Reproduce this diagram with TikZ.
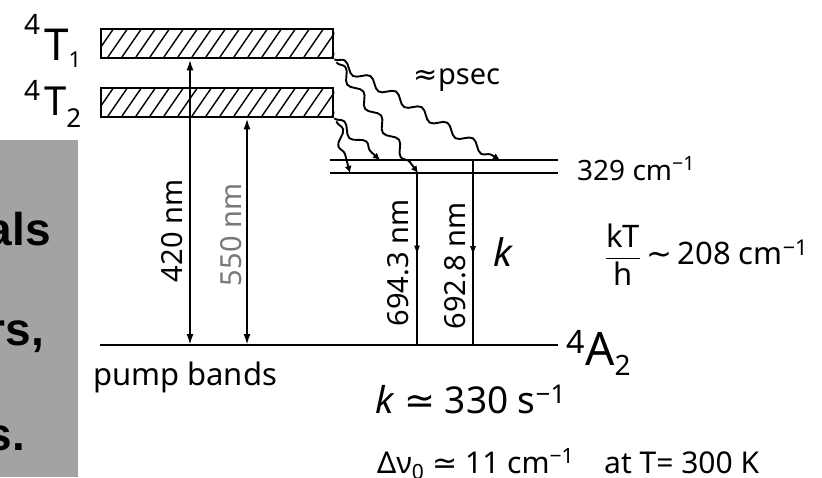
\documentclass[tikz,border=0pt]{standalone}
\usepackage{fontspec}
\usepackage{amsmath}
\setmainfont{Noto Sans}
\newfontfamily\slidefont{Liberation Sans}
\newfontfamily\symfont{DejaVu Sans}
\usetikzlibrary{arrows.meta,decorations.pathmorphing,decorations.markings}
\definecolor{boxgrey}{RGB}{163,163,163}
\definecolor{labelgrey}{RGB}{120,120,120}
\begin{document}
\begin{tikzpicture}[x=1pt,y=-1pt,
  lvl/.style={line width=2.2pt},
  band/.style={draw, line width=2.4pt, minimum width=232pt, minimum height=29pt, inner sep=0, anchor=north west},
  hatch/.style={line width=1.4pt},
  pump/.style={line width=1.9pt, {Latex[length=11pt,width=7pt]}-{Latex[length=11pt,width=7pt]}},
  emit/.style={line width=1.9pt, decoration={markings, mark=at position #1 with {\arrow{Latex[length=10pt,width=6pt]}}}, postaction={decorate}},
  wavy/.style={line width=1.9pt, -{Latex[length=7pt,width=7pt]}, decorate, decoration={snake, amplitude=4.5pt, segment length=30pt, post length=8pt}},
  hand/.style={font=\fontsize{29}{30}\selectfont, inner sep=0},
  slide/.style={font=\slidefont\bfseries\fontsize{46}{50}\selectfont, anchor=base east, inner sep=0},
]
\useasboundingbox (0,0) rectangle (822,477);
\fill[white] (0,0) rectangle (822,477);

% slide panel on the left
\node[fill=boxgrey, minimum width=78pt, minimum height=337pt, inner sep=0, anchor=north west] (panel) at (0,140) {};
\node[slide] (als) at (51,245) {als};
\node[slide] (rs) at (44,345) {rs,};
\node[slide] (sdot) at (25,450) {s.};

% pump bands
\node[band] (b1) at (100,28) {};
\node[band] (b2) at (100,87) {};
\begin{scope}
  \clip (b1.south west) rectangle (b1.north east);
  \foreach \x in {80,94,...,350} \draw[hatch] (\x,57) -- (\x+20,28);
\end{scope}
\begin{scope}
  \clip (b2.south west) rectangle (b2.north east);
  \foreach \x in {80,94,...,350} \draw[hatch] (\x,116) -- (\x+20,87);
\end{scope}

% level labels
\node[anchor=base west, inner sep=0] (t1) at (24,60) {\raisebox{26pt}{\fontsize{28}{28}\selectfont 4}\hspace{4pt}\fontsize{44}{44}\selectfont T\raisebox{-7pt}{\fontsize{22}{22}\selectfont 1}};
\node[anchor=base west, inner sep=0] (t2) at (24,115) {\raisebox{15pt}{\fontsize{28}{28}\selectfont 4}\hspace{4pt}\fontsize{40}{40}\selectfont T\raisebox{-12pt}{\fontsize{26}{26}\selectfont 2}};

% ground and 2E levels
\coordinate (gl) at (100,345);
\coordinate (gr) at (558,345);
\coordinate (ul) at (330,160);
\coordinate (ur) at (558,160);
\coordinate (ll) at (330,173);
\coordinate (lr) at (558,173);
\draw[lvl] (gl) -- (gr);
\draw[lvl] (ul) -- (ur);
\draw[lvl] (ll) -- (lr);

% pump arrows
\coordinate (p1) at (190,345);
\coordinate (p2) at (247,345);
\draw[pump] (p1) -- (p1 |- b1.south);
\draw[pump] (p2) -- (p2 |- b2.south);

% emission arrows
\coordinate (e1) at (417,173);
\coordinate (e2) at (473,160);
\draw[emit=0.48] (e1) -- (e1 |- gl);
\draw[emit=0.52] (e2) -- (e2 |- gl);

% non-radiative decays
\coordinate (w1) at (500,160);
\coordinate (w2) at (418,173);
\coordinate (w3) at (380,160);
\coordinate (w4) at (350,173);
\draw[wavy] (b1.south east) -- (w1);
\draw[wavy] (b1.south east) ++(2,3) coordinate (b1s) (b1s) -- (w2);
\draw[wavy] (b2.south east) -- (w3);
\draw[wavy] (b2.south east) ++(2,3) coordinate (b2s) (b2s) -- (w4);

% labels
\node[hand, rotate=90] (l420) at (172,231) {420 nm};
\node[hand, rotate=90, text=labelgrey] (l550) at (231,235) {550 nm};
\node[hand, rotate=90] (l694) at (398,263) {694.3 nm};
\node[hand, rotate=90] (l692) at (455,266) {692.8 nm};
\node[hand] (psec) at (457,80) {{\symfont ≈}psec};
\node[hand, anchor=base west, font=\fontsize{28}{28}\selectfont] (e329) at (577,180) {329 cm\textsuperscript{−1}};
\node[hand, font=\fontsize{38}{38}\selectfont\itshape] (kk) at (503,252) {k};
\node[hand, anchor=west, font=\fontsize{31}{32}\selectfont] (kth) at (605,255) {$\dfrac{\text{kT}}{\text{h}}$\,{\symfont ∼}\,208 cm\textsuperscript{−1}};
\node[hand, anchor=base west, font=\fontsize{46}{46}\selectfont] (a2) at (566,365) {\raisebox{2pt}{\textsuperscript{4}}A\raisebox{-10pt}{\fontsize{28}{28}\selectfont 2}};
\node[hand, anchor=base west, font=\fontsize{31}{32}\selectfont] (pump) at (93,385) {pump bands};
\node[hand, anchor=base west, font=\fontsize{37}{38}\selectfont] (krate) at (375,413) {\textit{k} {\symfont ≃} 330 s\textsuperscript{−1}};
\node[hand, anchor=base west, font=\fontsize{30}{30}\selectfont] (dnu) at (377,473) {Δν\textsubscript{0} {\symfont ≃} 11 cm\textsuperscript{−1}\quad at T= 300 K};
\end{tikzpicture}
\end{document}
